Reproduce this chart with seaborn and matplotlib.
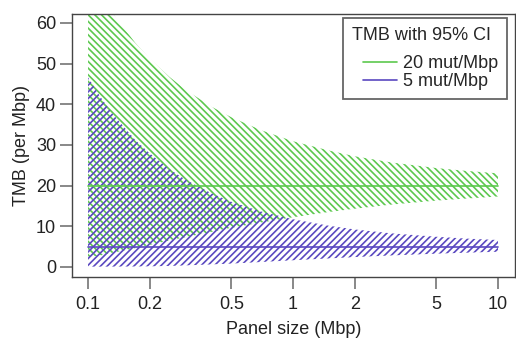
import matplotlib
matplotlib.use("Agg")
import matplotlib.pyplot as plt
import seaborn as sns
import pandas as pd
import numpy as np
from matplotlib.ticker import FixedLocator, FixedFormatter, NullLocator
from matplotlib.legend_handler import HandlerLine2D

# ---- data ----
panel_size = [0.1, 0.115, 0.13, 0.17, 0.2, 0.25, 0.3, 0.4, 0.5, 0.7, 1, 1.5, 2, 3, 5, 7, 10]
green_lo = [2.4, 2.8, 3.4, 4.6, 5.4, 6.5, 7.3, 8.6, 9.6, 10.9, 12.2, 13.5, 14.3, 15.3, 16.3, 16.8, 17.3]
green_hi = [72.2, 66.9, 62.7, 55.1, 51.2, 46.7, 43.5, 39.4, 36.8, 33.6, 30.9, 28.6, 27.2, 25.7, 24.3, 23.6, 23.0]
purple_lo = [0.05, 0.05, 0.06, 0.09, 0.13, 0.22, 0.36, 0.6, 0.8, 1.19, 1.62, 2.08, 2.4, 2.8, 3.24, 3.48, 3.71]
purple_hi = [46.6, 41.8, 38.0, 31.2, 27.9, 24.0, 21.4, 18.1, 16.0, 13.6, 11.7, 10.1, 9.2, 8.25, 7.4, 6.95, 6.6]
tmb_levels = [20, 5]
series_labels = ["20 mut/Mbp", "5 mut/Mbp"]
x_ticks = [0.1, 0.2, 0.5, 1, 2, 5, 10]
x_tick_labels = ["0.1", "0.2", "0.5", "1", "2", "5", "10"]
y_ticks = [0, 10, 20, 30, 40, 50, 60]

GREEN = "#5cc84e"
PURPLE = "#5a48c0"

sns.set_theme(style="white")
plt.rcParams["font.family"] = ["Liberation Sans", "DejaVu Sans"]
plt.rcParams["hatch.linewidth"] = 1.2

fig = plt.figure(figsize=(5.16, 3.40), dpi=100)
ax = fig.add_axes([0.1395, 0.1853, 0.8585, 0.7735])

# hatched confidence bands
ax.fill_between(panel_size, green_lo, green_hi, facecolor="none",
                edgecolor=GREEN, hatch="\\" * 5, linewidth=0)
ax.fill_between(panel_size, purple_lo, purple_hi, facecolor="none",
                edgecolor=PURPLE, hatch="/" * 5, linewidth=0)

# central lines
df = pd.DataFrame({
    "x": [panel_size[0], panel_size[-1]] * 2,
    "y": [tmb_levels[0]] * 2 + [tmb_levels[1]] * 2,
    "series": [series_labels[0]] * 2 + [series_labels[1]] * 2,
})
sns.lineplot(data=df, x="x", y="y", hue="series",
             palette={series_labels[0]: GREEN, series_labels[1]: PURPLE},
             linewidth=1.2, ax=ax, legend=True)

ax.set_xscale("log")
ax.set_xlim(0.0835, 12.1)
ax.set_ylim(-2.5, 62.2)
ax.xaxis.set_major_locator(FixedLocator(x_ticks))
ax.xaxis.set_major_formatter(FixedFormatter(x_tick_labels))
ax.xaxis.set_minor_locator(NullLocator())
ax.set_yticks(y_ticks)

for s in ax.spines.values():
    s.set_visible(True)
    s.set_color("#444444")
    s.set_linewidth(1.0)

ax.tick_params(axis="both", which="major", direction="out", length=8.5,
               width=1.4, color="#888888", labelsize=13, labelcolor="#222222",
               bottom=True, left=True)
ax.tick_params(axis="x", pad=5)
ax.tick_params(axis="y", pad=3)

ax.set_xlabel("Panel size (Mbp)", fontsize=13, color="#222222", labelpad=6)
ax.set_ylabel("TMB (per Mbp)", fontsize=13, color="#222222", labelpad=4)

handles, labels = ax.get_legend_handles_labels()
leg = ax.legend(handles, labels, title="TMB with 95% CI", loc="upper right",
                bbox_to_anchor=(0.982, 0.985), borderaxespad=0,
                fontsize=13, title_fontsize=13, frameon=True, fancybox=False,
                edgecolor="#666666", framealpha=1,
                handlelength=2.45, handletextpad=0.35, labelspacing=0.05,
                borderpad=0.5, alignment="left",
                handler_map={h: HandlerLine2D(xpad=0.6) for h in handles})
leg.get_frame().set_linewidth(1.3)
leg._legend_box.sep = 8

fig.savefig("out.png", dpi=100)
